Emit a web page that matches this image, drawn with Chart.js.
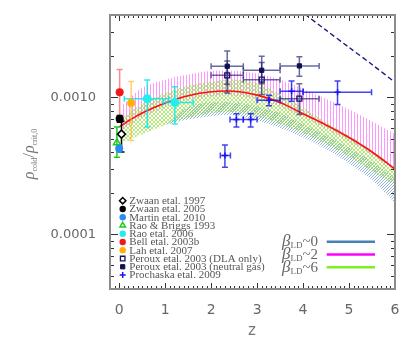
<!DOCTYPE html>
<html><head><meta charset="utf-8">
<script src="https://cdn.jsdelivr.net/npm/chart.js@4.4.1/dist/chart.umd.min.js"></script>
<style>html,body{margin:0;padding:0;background:#fff;}</style>
</head><body>
<canvas id="c" width="415" height="346"></canvas>
<script>
// ---------------- data ----------------
const xTicks = [0, 1, 2, 3, 4, 5, 6];
const yTicks = [0.0001, 0.001];
const yTickLabels = ['0.0001', '0.0010'];

// model bands
const zBand   = [0.08, 0.5, 1, 1.5, 2, 2.5, 3, 3.5, 4, 4.5, 5, 5.5, 6];
const magUpper = [0.00088,0.00118,0.00135,0.00147,0.00156,0.00156,0.0015,0.00135,0.00116,0.00098,0.00082,0.00067,0.00054];
const magLower = [0.00058,0.00072,0.00085,0.00096,0.00102,0.00103,0.00097,0.00086,0.00072,0.00059,0.00048,0.00038,0.00029];
const grnUpper = [0.00072,0.0009,0.00108,0.00122,0.0013,0.00135,0.00127,0.00105,0.00084,0.00066,0.00053,0.00041,0.00031];
const grnLower = [0.00047,0.00054,0.00063,0.00071,0.00077,0.00078,0.00073,0.00064,0.00055,0.00046,0.00037,0.00029,0.00023];
const zBlue    = [1, 1.5, 2, 2.5, 3, 3.5, 4, 4.5, 5, 5.5, 6];
const bluUpper = [0.00063,0.00085,0.00092,0.00092,0.00086,0.00077,0.00064,0.00053,0.00043,0.00034,0.00026];
const bluLower = [0.00063,0.00069,0.00073,0.00074,0.00068,0.0006,0.00051,0.00042,0.00033,0.00025,0.00017];

const zRed   = [0, 0.25, 0.5, 1, 1.5, 2, 2.5, 3, 3.5, 4, 4.5, 5, 5.5, 6];
const redVal = [0.00061,0.00069,0.00077,0.00091,0.00103,0.0011,0.00111,0.00104,0.00092,0.00076,0.00063,0.00051,0.0004,0.0003];

const zDash   = [3.9, 4.5, 5, 5.5, 6];
const dashVal = [0.0044, 0.0031, 0.00232, 0.00174, 0.00129];

// observations
const zwaan97Z = [0.05],  zwaan97V = [0.00054],  zwaan97Lo = [0.00040],  zwaan97Hi = [0.00067];
const zwaan05Z = [0.01],  zwaan05V = [0.0007],   zwaan05Lo = [0.00066],  zwaan05Hi = [0.00074];
const martinZ  = [0.0],   martinV  = [0.000425], martinLo  = [0.0004],   martinHi  = [0.00045];
const raoBrZ   = [-0.05], raoBrV   = [0.000468], raoBrLo   = [0.000366], raoBrHi   = [0.00061];
const rao06Z   = [0.61, 1.21], rao06V = [0.00098, 0.00092];
const rao06ZLo = [0.11, 0.96], rao06ZHi = [1.08, 1.61];
const rao06Lo  = [0.00061, 0.00064], rao06Hi = [0.00134, 0.0012];
const bellZ    = [0.01],  bellV = [0.00109], bellLo = [0.00072], bellHi = [0.0016];
const lahZ     = [0.26],  lahV  = [0.00091], lahLo  = [0.000485], lahHi = [0.00131];
const perZ     = [2.35, 3.1, 3.92];
const perZLo   = [2.0, 2.7, 3.5], perZHi = [2.7, 3.5, 4.35];
const perDlaV  = [0.00145, 0.00135, 0.00098];
const perDlaLo = [0.00108, 0.00105, 0.00075], perDlaHi = [0.00185, 0.0018, 0.00126];
const perNgV   = [0.00169, 0.00158, 0.0017];
const perNgLo  = [0.00125, 0.00126, 0.00143], perNgHi = [0.00218, 0.002, 0.00198];
const proZ     = [2.3, 2.55, 2.86, 3.26, 3.75, 4.75];
const proV     = [0.000377, 0.00069, 0.00069, 0.000956, 0.00111, 0.00109];
const proZLo   = [2.2, 2.41, 2.7, 3.0, 3.5, 4.0], proZHi = [2.42, 2.7, 3.0, 3.5, 4.0, 5.49];
const proLo    = [0.00031, 0.00061, 0.00061, 0.00087, 0.00094, 0.00089];
const proHi    = [0.000449, 0.00076, 0.00076, 0.00104, 0.00132, 0.00132];

// ---------------- helpers ----------------
const pts = (xs, ys) => xs.map((x, i) => ({x: x, y: ys[i]}));
function pattern(w, h, fn) {
  const c = document.createElement('canvas'); c.width = w; c.height = h;
  const g = c.getContext('2d'); fn(g); return g.createPattern(c, 'repeat');
}
const magPat = pattern(3, 1, g => { g.fillStyle = 'rgba(255,110,255,0.7)'; g.fillRect(0, 0, 1, 1); });
const grnPat = pattern(4, 4, g => {
  g.fillStyle = 'rgba(150,222,70,0.7)';
  [[0,0],[1,1],[2,2],[3,3],[3,0],[2,1],[1,2],[0,3]].forEach(p => g.fillRect(p[0], p[1], 1, 1));
});
const bluPat = pattern(3, 3, g => { g.fillStyle = 'rgba(110,155,205,0.75)'; g.fillRect(0, 2, 1, 1); g.fillRect(1, 1, 1, 1); g.fillRect(2, 0, 1, 1); });

const series = [
  {label:'Zwaan etal. 1997', z:zwaan97Z, v:zwaan97V, lo:zwaan97Lo, hi:zwaan97Hi, style:'rectRot', r:4, bg:'#ffffff', bc:'#000000', bw:1.5, err:'#000000'},
  {label:'Zwaan etal. 2005', z:zwaan05Z, v:zwaan05V, lo:zwaan05Lo, hi:zwaan05Hi, style:'circle', r:4, bg:'#000000', bc:'#000000', bw:0, err:'#000000'},
  {label:'Martin etal. 2010', z:martinZ, v:martinV, lo:martinLo, hi:martinHi, style:'circle', r:4, bg:'#2a8cf0', bc:'#2a8cf0', bw:0, err:'#2a8cf0'},
  {label:'Rao & Briggs 1993', z:raoBrZ, v:raoBrV, lo:raoBrLo, hi:raoBrHi, style:'triangle', r:4, bg:'rgba(0,0,0,0)', bc:'#1ecc1e', bw:1.5, err:'#1ecc1e'},
  {label:'Rao etal. 2006', z:rao06Z, v:rao06V, lo:rao06Lo, hi:rao06Hi, zlo:rao06ZLo, zhi:rao06ZHi, style:'circle', r:4.5, bg:'#22eeee', bc:'#22eeee', bw:0, err:'rgba(0,228,238,0.8)'},
  {label:'Bell etal. 2003b', z:bellZ, v:bellV, lo:bellLo, hi:bellHi, style:'circle', r:4, bg:'#f01818', bc:'#f01818', bw:0, err:'rgba(250,60,60,0.6)'},
  {label:'Lah etal. 2007', z:lahZ, v:lahV, lo:lahLo, hi:lahHi, style:'circle', r:4, bg:'#ffb000', bc:'#ffb000', bw:0, err:'rgba(255,180,40,0.65)'},
  {label:'Peroux etal. 2003 (DLA only)', z:perZ, v:perDlaV, lo:perDlaLo, hi:perDlaHi, zlo:perZLo, zhi:perZHi, style:'rect', r:3.5, bg:'rgba(0,0,0,0)', bc:'#121260', bw:1.3, err:'rgba(25,25,110,0.65)'},
  {label:'Peroux etal. 2003 (neutral gas)', z:perZ, v:perNgV, lo:perNgLo, hi:perNgHi, zlo:perZLo, zhi:perZHi, style:'rect', r:3, bg:'#101050', bc:'#101050', bw:1, err:'rgba(25,25,110,0.65)'},
  {label:'Prochaska etal. 2009', z:proZ, v:proV, lo:proLo, hi:proHi, zlo:proZLo, zhi:proZHi, style:'cross', r:3, bg:'#1515f0', bc:'#1515f0', bw:1.5, err:'rgba(20,20,240,0.8)'}
];

const betaLegend = [
  {num:'0', color:'#4682b4'},
  {num:'2', color:'#ff00ff'},
  {num:'6', color:'#7ef020'}
];

// ---------------- datasets ----------------
const band = (data, fill, bg, order) => ({type:'scatter', data:data, showLine:true, fill:fill, backgroundColor:bg,
  borderWidth:0, borderColor:'rgba(0,0,0,0)', pointRadius:0, tension:0.35, order:order});
const datasets = [
  band(pts(zBand, magUpper), '+1', magPat, 12),
  band(pts(zBand, magLower), false, 'rgba(0,0,0,0)', 12),
  band(pts(zBand, grnUpper), '+1', grnPat, 11),
  band(pts(zBand, grnLower), false, 'rgba(0,0,0,0)', 11),
  band(pts(zBlue, bluUpper), '+1', bluPat, 13),
  band(pts(zBlue, bluLower), false, 'rgba(0,0,0,0)', 13),
  {type:'scatter', label:'fit', data:pts(zRed, redVal), showLine:true, borderColor:'#ff1010', borderWidth:1.6, pointRadius:0, tension:0.35, fill:false, order:6},
  {type:'scatter', label:'dash', data:pts(zDash, dashVal), showLine:true, borderColor:'#1a1a80', borderWidth:1.4, borderDash:[5,3], pointRadius:0, tension:0.3, fill:false, order:4}
];
series.forEach(s => datasets.push({type:'scatter', label:s.label, data:pts(s.z, s.v), showLine:false,
  pointStyle:s.style, pointRadius:s.r, pointHoverRadius:s.r, backgroundColor:s.bg, borderColor:s.bc, borderWidth:s.bw, order:1}));

// ---------------- plugin ----------------
function drawErrors(chart) {
  const ctx = chart.ctx, xs = chart.scales.x, ys = chart.scales.y, a = chart.chartArea;
  ctx.save();
  ctx.beginPath(); ctx.rect(a.left, a.top, a.right - a.left, a.bottom - a.top); ctx.clip();
  ctx.lineWidth = 1.5;
  series.forEach(s => {
    ctx.strokeStyle = s.err;
    s.z.forEach((z, i) => {
      const px = xs.getPixelForValue(z), py = ys.getPixelForValue(s.v[i]);
      const y1 = ys.getPixelForValue(s.lo[i]), y2 = ys.getPixelForValue(s.hi[i]);
      ctx.beginPath();
      ctx.moveTo(px, y1); ctx.lineTo(px, y2);
      ctx.moveTo(px - 3, y1); ctx.lineTo(px + 3, y1);
      ctx.moveTo(px - 3, y2); ctx.lineTo(px + 3, y2);
      if (s.zlo) {
        const x1 = xs.getPixelForValue(s.zlo[i]), x2 = xs.getPixelForValue(s.zhi[i]);
        ctx.moveTo(x1, py); ctx.lineTo(x2, py);
        ctx.moveTo(x1, py - 3); ctx.lineTo(x1, py + 3);
        ctx.moveTo(x2, py - 3); ctx.lineTo(x2, py + 3);
      }
      ctx.stroke();
    });
  });
  ctx.restore();
}
function drawFrame(chart) {
  const ctx = chart.ctx, xs = chart.scales.x, ys = chart.scales.y, a = chart.chartArea;
  ctx.save();
  ctx.strokeStyle = '#333'; ctx.lineWidth = 1;
  ctx.beginPath();
  for (let k = -2; k <= 60; k++) {
    const v = k / 10, px = Math.round(xs.getPixelForValue(v)) + 0.5;
    const len = (k % 10 === 0) ? 6 : 3;
    ctx.moveTo(px, a.bottom); ctx.lineTo(px, a.bottom - len);
    ctx.moveTo(px, a.top); ctx.lineTo(px, a.top + len);
  }
  for (let d = -5; d <= -3; d++) {
    for (let m = 1; m <= 9; m++) {
      const v = m * Math.pow(10, d);
      if (v < ys.min || v > ys.max) continue;
      const py = Math.round(ys.getPixelForValue(v)) + 0.5;
      const len = m === 1 ? 8 : 4;
      ctx.moveTo(a.left, py); ctx.lineTo(a.left + len, py);
      ctx.moveTo(a.right, py); ctx.lineTo(a.right - len, py);
    }
  }
  ctx.stroke();
  ctx.strokeStyle = '#8c8c8c'; ctx.lineWidth = 2;
  ctx.strokeRect(a.left, a.top, a.right - a.left, a.bottom - a.top);
  ctx.restore();
}
function drawLegends(chart) {
  const ctx = chart.ctx;
  ctx.save();
  // data legend
  ctx.font = '11px "Liberation Serif"';
  ctx.textBaseline = 'middle'; ctx.textAlign = 'left';
  series.forEach((s, i) => {
    const y = 200.7 + i * 8.26, x = 122.7;
    ctx.fillStyle = s.bg; ctx.strokeStyle = s.bc; ctx.lineWidth = s.bw;
    Chart.helpers.drawPoint(ctx, {pointStyle:s.style, radius:Math.min(s.r, 3.2), rotation:0, borderWidth:s.bw}, x, y);
    ctx.fillStyle = '#555';
    ctx.fillText(s.label, 129.3, y + 0.5);
  });
  // beta legend
  ctx.textBaseline = 'alphabetic';
  betaLegend.forEach((b, i) => {
    const rowY = 241.7 + i * 12.8, base = rowY + 4.5, right = 318;
    const fB = 'italic 17px "Liberation Serif"', fS = '9px "Liberation Serif"', fN = '15px "Liberation Serif"';
    const tN = '~' + b.num;
    ctx.font = fB; const wB = ctx.measureText('\u03b2').width;
    ctx.font = fS; const wS = ctx.measureText('LD').width;
    ctx.font = fN; const wN = ctx.measureText(tN).width;
    let x = right - wB - wS - wN;
    ctx.fillStyle = '#666';
    ctx.font = fB; ctx.fillText('\u03b2', x, base); x += wB;
    ctx.font = fS; ctx.fillText('LD', x, base + 2); x += wS;
    ctx.font = fN; ctx.fillText(tN, x, base);
    ctx.strokeStyle = b.color; ctx.lineWidth = 2.5;
    ctx.beginPath(); ctx.moveTo(326.7, rowY); ctx.lineTo(375, rowY); ctx.stroke();
  });
  ctx.restore();
}
function drawTitles(chart) {
  const ctx = chart.ctx;
  ctx.save();
  ctx.fillStyle = '#777';
  ctx.font = '15px "DejaVu Sans"'; ctx.textAlign = 'center'; ctx.textBaseline = 'middle';
  ctx.fillText('z', 252, 331);
  // y title
  ctx.translate(31, 154); ctx.rotate(-Math.PI / 2);
  const parts = [
    {t:'\u03c1', f:'italic 16px "Liberation Serif"', dy:0},
    {t:'cold', f:'8px "Liberation Serif"', dy:3},
    {t:'/', f:'17px "Liberation Serif"', dy:0},
    {t:'\u03c1', f:'italic 16px "Liberation Serif"', dy:0},
    {t:'crit,0', f:'8px "Liberation Serif"', dy:3}
  ];
  let tot = 0;
  parts.forEach(p => { ctx.font = p.f; p.w = ctx.measureText(p.t).width; tot += p.w; });
  let x = -tot / 2;
  ctx.textAlign = 'left'; ctx.textBaseline = 'alphabetic';
  parts.forEach(p => { ctx.font = p.f; ctx.fillText(p.t, x, 3 + p.dy); x += p.w; });
  ctx.restore();
}
const deco = {
  id: 'deco',
  afterDatasetDraw(chart, args) {
    if (chart.data.datasets[args.index].label === 'fit') drawErrors(chart);
  },
  afterDraw(chart) { drawFrame(chart); drawLegends(chart); drawTitles(chart); }
};

// ---------------- chart ----------------
new Chart(document.getElementById('c'), {
  type: 'scatter',
  data: {datasets: datasets},
  plugins: [deco],
  options: {
    responsive: false, animation: false, devicePixelRatio: 1,
    layout: {padding: {top: 15, right: 20, left: 0, bottom: 0}},
    plugins: {legend: {display: false}, tooltip: {enabled: false}},
    scales: {
      x: {
        type: 'linear', min: -0.2, max: 6,
        afterBuildTicks: s => { s.ticks = xTicks.map(v => ({value: v})); },
        afterFit: s => { s.height = 57; s.paddingLeft = 0; s.paddingRight = 0; },
        grid: {display: false, drawTicks: false}, border: {display: false},
        ticks: {color: '#666', font: {family: 'DejaVu Sans', size: 14}, padding: 13, maxRotation: 0,
          callback: v => String(v)}
      },
      y: {
        type: 'logarithmic', min: 0.00004, max: 0.004,
        afterBuildTicks: s => { s.ticks = yTicks.map(v => ({value: v})); },
        afterFit: s => { s.width = 110; s.paddingTop = 0; s.paddingBottom = 0; },
        grid: {display: false, drawTicks: false}, border: {display: false},
        ticks: {color: '#666', font: {family: 'DejaVu Sans', size: 13}, padding: 14,
          callback: v => { const i = yTicks.indexOf(v); return i >= 0 ? yTickLabels[i] : ''; }}
      }
    }
  }
});
</script>
</body></html>
